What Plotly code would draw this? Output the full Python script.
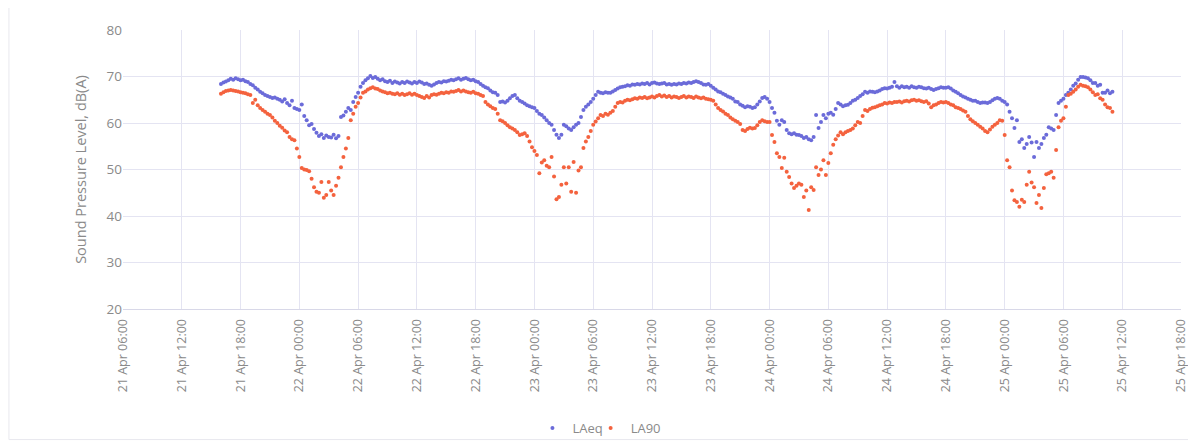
import pandas as pd
import plotly.graph_objects as go

# LAeq, 15-minute values, one list per day (21 Apr starts 16:00, 25 Apr ends 11:00)
laeq_21 = [68.4, 68.7, 68.9, 69.2, 69.5, 69.3, 69.6, 69.4, 69.2, 69.3, 69.0, 68.8,
           68.4, 68.1, 67.6, 67.2, 66.7, 66.4, 66.0, 65.8, 65.6, 65.4, 65.5, 65.2,
           65.0, 64.6, 65.1, 64.3, 63.8, 64.8, 63.2, 63.0]
laeq_22 = [62.8, 64.0, 61.5, 60.6, 59.5, 59.8, 58.7, 57.9, 57.2, 57.6, 56.8, 57.3,
           57.0, 56.9, 57.5, 56.7, 57.2, 61.3, 61.6, 62.4, 63.2, 62.8, 64.5, 65.6,
           66.5, 67.8, 68.6, 69.2, 69.6, 70.1, 69.7, 69.9, 69.5, 69.2, 69.4, 69.0,
           68.8, 69.1, 68.6, 68.9, 68.7, 68.5, 68.8, 68.6, 68.9, 68.7, 68.5, 68.8,
           68.6, 68.9, 68.7, 68.4, 68.5, 68.2, 68.0, 68.3, 68.6, 68.8, 68.7, 69.0,
           68.9, 69.1, 69.3, 69.2, 69.4, 69.6, 69.3, 69.5, 69.7, 69.4, 69.2, 69.3,
           69.0, 68.8, 68.4, 68.0, 67.7, 67.5, 67.0, 66.6, 66.5, 66.0, 64.5, 64.6,
           64.4, 64.8, 65.3, 65.8, 66.0, 65.3, 64.8, 64.5, 64.2, 63.8, 63.6, 63.4]
laeq_23 = [63.2, 62.6, 62.0, 61.7, 61.2, 60.6, 60.0, 59.6, 58.5, 57.5, 56.8, 57.5,
           59.6, 59.3, 58.8, 58.5, 59.1, 59.6, 60.0, 61.3, 62.8, 63.5, 64.0, 64.5,
           65.2, 66.0, 66.7, 66.5, 66.4, 66.6, 66.5, 66.5, 66.8, 67.1, 67.4, 67.7,
           67.8, 67.9, 68.1, 68.0, 68.3, 68.2, 68.4, 68.3, 68.5, 68.4, 68.6, 68.3,
           68.6, 68.7, 68.5, 68.4, 68.5, 68.6, 68.3, 68.4, 68.2, 68.4, 68.3, 68.5,
           68.4, 68.6, 68.5, 68.7, 68.6, 68.8, 69.0, 68.8, 68.6, 68.3, 68.2, 68.4,
           68.0, 67.6, 67.2, 66.8, 66.6, 66.3, 66.0, 65.7, 65.5, 65.2, 64.6, 64.5,
           64.0, 63.7, 63.4, 63.6, 63.5, 63.2, 63.4, 64.0, 64.6, 65.4, 65.6, 65.2]
laeq_24 = [64.5, 63.2, 62.2, 60.5, 59.6, 60.6, 60.2, 58.5, 57.8, 57.6, 57.8, 57.5,
           57.4, 57.2, 56.8, 57.0, 56.5, 56.3, 57.0, 61.7, 58.9, 60.2, 61.7, 61.0,
           62.0, 62.2, 61.8, 63.0, 64.3, 64.0, 63.6, 63.8, 63.9, 64.3, 64.8, 65.0,
           65.4, 65.8, 66.2, 66.7, 66.5, 66.8, 66.7, 66.6, 66.8, 67.0, 67.3, 67.5,
           67.4, 67.6, 67.8, 68.8, 67.9, 67.6, 67.9, 67.7, 67.8, 67.6, 67.9, 67.7,
           67.6, 67.8, 67.7, 67.5, 67.4, 67.6, 67.3, 67.1, 67.3, 67.5, 67.7, 67.6,
           67.6, 67.7, 67.4, 67.0, 66.7, 66.4, 66.0, 65.7, 65.5, 65.2, 65.0, 64.8,
           64.8, 64.5, 64.3, 64.4, 64.4, 64.3, 64.5, 64.9, 65.2, 65.4, 65.2, 64.8]
laeq_25 = [64.5, 64.0, 62.4, 61.0, 58.9, 60.6, 55.9, 56.5, 54.6, 55.5, 57.0, 55.8,
           52.7, 55.9, 54.6, 55.5, 56.8, 57.5, 59.1, 58.8, 58.5, 61.7, 64.3, 64.8,
           65.2, 66.0, 66.5, 67.2, 68.0, 68.5, 69.3, 69.9, 69.9, 69.8, 69.6, 69.2,
           68.6, 68.6, 68.0, 68.2, 66.5, 66.5, 67.0, 66.4, 66.7]

# LA90, 15-minute values
la90_21 = [66.3, 66.6, 66.9, 67.0, 67.1, 67.0, 66.9, 66.8, 66.6, 66.5, 66.4, 66.2,
           66.0, 64.3, 65.0, 63.8, 63.2, 62.8, 62.4, 62.0, 61.7, 61.2, 60.5, 60.0,
           59.4, 59.0, 58.4, 58.0, 57.0, 56.5, 56.3, 54.5]
la90_22 = [52.7, 50.3, 50.0, 49.9, 49.6, 48.0, 46.2, 45.2, 45.0, 47.3, 43.9, 44.5,
           47.3, 45.5, 44.5, 46.5, 48.2, 50.5, 52.7, 54.5, 56.8, 60.6, 62.0, 63.5,
           64.3, 65.5, 66.5, 66.8, 67.2, 67.5, 67.7, 67.4, 67.3, 67.0, 66.8, 66.6,
           66.4, 66.5, 66.3, 66.2, 66.4, 66.1, 66.3, 66.0, 66.2, 66.4, 66.1, 66.3,
           66.0, 65.8, 65.6, 65.4, 65.8, 65.5, 66.0, 66.2, 66.1, 66.3, 66.5, 66.4,
           66.6, 66.5, 66.8, 66.7, 66.9, 67.1, 66.8, 67.0, 66.8, 66.6, 66.5, 66.7,
           66.4, 66.3, 66.0, 65.8, 64.5, 64.0, 63.6, 63.2, 63.0, 62.0, 60.6, 60.4,
           60.0, 59.5, 59.1, 58.8, 58.5, 58.0, 57.4, 57.6, 57.8, 57.2, 56.0, 54.8]
la90_23 = [54.0, 53.1, 49.2, 51.5, 52.0, 50.8, 50.5, 52.7, 48.5, 43.6, 44.1, 46.7,
           50.5, 47.0, 50.5, 45.2, 51.6, 45.0, 49.8, 50.5, 54.6, 56.0, 57.0, 58.3,
           59.6, 60.3, 61.0, 61.7, 61.5, 62.0, 61.8, 62.2, 62.6, 63.5, 64.3, 64.5,
           64.4, 64.8, 65.0, 64.9, 65.1, 65.3, 65.2, 65.5, 65.4, 65.6, 65.3, 65.5,
           65.7, 65.5, 65.8, 66.0, 65.7, 65.9, 65.6, 65.8, 65.5, 65.7, 65.6, 65.4,
           65.6, 65.8, 65.5, 65.7, 65.6, 65.4, 65.7, 65.5, 65.3, 65.5, 65.2, 65.1,
           65.0, 64.8, 64.0, 63.2, 62.8, 62.5, 62.0, 61.7, 61.2, 60.8, 60.5, 60.2,
           59.8, 58.5, 58.3, 58.7, 59.0, 58.8, 58.9, 59.5, 60.2, 60.6, 60.4, 60.2]
la90_24 = [60.2, 57.4, 55.9, 53.5, 52.7, 50.3, 52.5, 49.5, 48.4, 47.0, 46.0, 46.5,
           47.0, 46.7, 44.1, 45.5, 41.3, 46.2, 45.6, 50.5, 48.8, 50.0, 52.0, 48.8,
           51.4, 53.5, 55.3, 56.5, 57.3, 58.0, 57.6, 58.0, 58.3, 58.5, 58.8, 59.5,
           60.2, 60.0, 61.5, 62.8, 62.6, 63.0, 63.3, 63.4, 63.6, 63.8, 64.0, 64.3,
           64.2, 64.4, 64.3, 64.5, 64.5, 64.6, 64.4, 64.7, 64.8, 64.6, 64.9, 65.0,
           64.8, 64.9, 64.7, 64.5, 64.7, 64.2, 63.4, 63.8, 64.0, 64.3, 64.5, 64.4,
           64.5, 64.3, 64.0, 63.8, 63.4, 63.2, 63.0, 62.7, 62.4, 61.5, 60.8, 60.4,
           60.0, 59.6, 59.2, 58.8, 58.3, 58.0, 58.6, 59.2, 59.6, 60.0, 60.6, 60.5]
la90_25 = [57.4, 52.0, 50.5, 45.5, 43.4, 43.0, 42.0, 43.5, 43.0, 46.7, 49.5, 47.2,
           46.2, 42.8, 44.5, 41.7, 46.0, 49.0, 49.2, 49.5, 48.2, 54.2, 59.1, 60.5,
           61.0, 63.5, 66.0, 66.3, 66.7, 67.2, 67.8, 68.2, 68.0, 67.9, 67.7, 67.2,
           66.6, 66.0, 66.2, 65.3, 65.0, 64.0, 63.4, 63.2, 62.4]

start_time = "2021-04-21 16:00"
sample_interval = "15min"
x_range = ["2021-04-21 06:00", "2021-04-25 18:00"]
y_range = [20, 80]

laeq = laeq_21 + laeq_22 + laeq_23 + laeq_24 + laeq_25
la90 = la90_21 + la90_22 + la90_23 + la90_24 + la90_25
times = pd.date_range(start=start_time, periods=len(laeq), freq=sample_interval)

BLUE = "#6b6bd9"
RED = "#f4623e"
GRID = "#e4e4f2"
TXT = "#8a8a8a"
FONT = "Open Sans, Lato, sans-serif"

fig = go.Figure()
fig.add_trace(go.Scatter(x=times, y=laeq, mode="markers", name="LAeq", legend="legend",
                         marker=dict(color=BLUE, size=4, line=dict(width=0))))
fig.add_trace(go.Scatter(x=times, y=la90, mode="markers", name="LA90", legend="legend2",
                         marker=dict(color=RED, size=4, line=dict(width=0))))

legend_style = dict(orientation="h", y=-0.427, yanchor="middle", xanchor="left",
                    font=dict(size=13, color=TXT), itemwidth=30,
                    bgcolor="rgba(0,0,0,0)")

# the page body adds an 8px offset, so the figure is 8px smaller on each axis
fig.update_layout(
    width=1188, height=437,
    margin=dict(l=115, r=15, t=22, b=136, autoexpand=False),
    paper_bgcolor="white", plot_bgcolor="white",
    font=dict(family=FONT, color=TXT, size=12),
    showlegend=True,
    legend=dict(x=0.387, **legend_style),
    legend2=dict(x=0.442, **legend_style),
    shapes=[dict(type="rect", xref="paper", yref="paper",
                 x0=-0.1078, x1=1.008, y0=-0.468, y1=1.093,
                 line=dict(color="#e8e8ee", width=1), fillcolor="rgba(0,0,0,0)",
                 layer="below")],
)
fig.update_xaxes(
    type="date", range=x_range, tick0=x_range[0], dtick=6 * 3600 * 1000,
    tickformat="%d %b %H:%M", tickangle=-90, automargin=False,
    showgrid=True, gridcolor=GRID, gridwidth=1,
    showline=True, linecolor="#d8d8e8", linewidth=1,
    ticks="", tickfont=dict(size=12.5, color=TXT), zeroline=False,
    ticklabelstandoff=4,
)
fig.update_yaxes(
    range=y_range, dtick=10, showgrid=True, gridcolor=GRID, gridwidth=1,
    showline=False, zeroline=False, ticks="", automargin=False,
    tickfont=dict(size=13.5, color=TXT),
    title=dict(text="Sound Pressure Level, dB(A)", font=dict(size=14.5, color=TXT), standoff=16),
)

fig.write_html("out.html")
